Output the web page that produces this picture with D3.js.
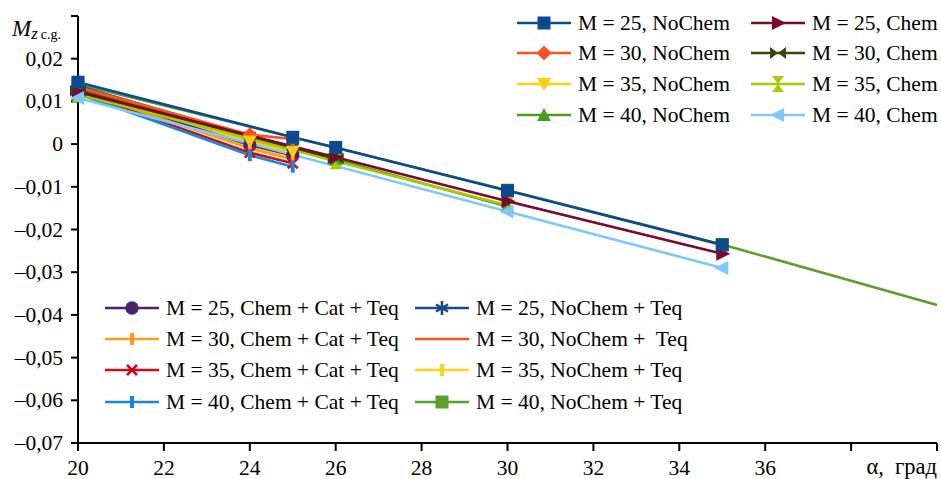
<!DOCTYPE html>
<html>
<head>
<meta charset="utf-8">
<script src="https://cdn.jsdelivr.net/npm/d3@7"></script>
<style>
  body { margin: 0; background: #fff; }
  svg { display: block; font-family: "Liberation Serif", "Times New Roman", serif; }
  svg text { white-space: pre; }
</style>
</head>
<body>
<svg id="chart" width="941" height="479"></svg>
<script>
// ---- data ----
const xTicks = [20, 22, 24, 26, 28, 30, 32, 34, 36, 38, 40];
const xTickLabels = ['20', '22', '24', '26', '28', '30', '32', '34', '36', '', ''];
const yTicks = [-0.07, -0.06, -0.05, -0.04, -0.03, -0.02, -0.01, 0, 0.01, 0.02, 0.03];
const yTickLabels = ['\u20130,07', '\u20130,06', '\u20130,05', '\u20130,04', '\u20130,03', '\u20130,02', '\u20130,01', '0', '0,01', '0,02', ''];

const seriesNames = [
  'M = 25, NoChem', 'M = 30, NoChem', 'M = 35, NoChem', 'M = 40, NoChem',
  'M = 25, Chem', 'M = 30, Chem', 'M = 35, Chem', 'M = 40, Chem',
  'M = 25, Chem + Cat + Teq', 'M = 30, Chem + Cat + Teq', 'M = 35, Chem + Cat + Teq', 'M = 40, Chem + Cat + Teq',
  'M = 25, NoChem + Teq', 'M = 30, NoChem +  Teq', 'M = 35, NoChem + Teq', 'M = 40, NoChem + Teq'
];
const seriesAlpha = [
  [20, 25, 26, 30, 35], [20, 24, 25], [20, 24, 25], [20, 26, 30],
  [20, 26, 30, 35], [20, 26], [20, 26, 30], [20, 30, 35],
  [20, 24, 25], [20, 24, 25], [20, 24, 25], [20, 24, 25],
  [20, 24, 25], [20, 24, 25], [20, 24, 25], [20, 30, 35, 40]
];
const seriesValues = [
  [0.0145, 0.0016, -0.0008, -0.0109, -0.0236], [0.0134, 0.0022, 0.0012], [0.0126, 0.0006, -0.0018], [0.0116, -0.0036, -0.0146],
  [0.0122, -0.0031, -0.0134, -0.0257], [0.0125, -0.0034], [0.0117, -0.0040, -0.0143], [0.0108, -0.0158, -0.0290],
  [0.0128, -0.0002, -0.0026], [0.0125, -0.0010, -0.0036], [0.0122, -0.0020, -0.0045], [0.0118, -0.0026, -0.0053],
  [0.0136, 0.0019, -0.0007], [0.0131, 0.0010, -0.0014], [0.0124, -0.0004, -0.0030], [0.0140, -0.0108, -0.0235, -0.0377]
];
const seriesColors = [
  '#0d4a8c', '#ff5020', '#ffcc10', '#4c9a22',
  '#7a0a2a', '#34480c', '#a6cc00', '#80c8fa',
  '#4a2272', '#ff9a1c', '#cc0c18', '#1a88da',
  '#164a8a', '#ff4c1c', '#ffd418', '#5aa02a'
];
const seriesMarkers = [
  'square', 'diamond', 'triDown', 'triUp',
  'triRight', 'bowtie', 'hourglass', 'triLeft',
  'circle', 'bar', 'cross', 'bar',
  'star', 'none', 'bar', 'square'
];

const series = seriesNames.map((name, i) => ({
  name,
  color: seriesColors[i],
  marker: seriesMarkers[i],
  points: seriesAlpha[i].map((a, j) => [a, seriesValues[i][j]])
}));

// ---- layout ----
const svg = d3.select('#chart');
const x = d3.scaleLinear().domain([20, 40]).range([78, 937]);
const y = d3.scaleLinear().domain([-0.07, 0.03]).range([443, 16]);
const fs = 21.5;

function markerPath(type) {
  switch (type) {
    case 'square': return 'M-6.5,-6.5h13v13h-13Z';
    case 'diamond': return 'M0,-7.5L7.5,0L0,7.5L-7.5,0Z';
    case 'triDown': return 'M-7,-6L7,-6L0,7Z';
    case 'triUp': return 'M-7,6L7,6L0,-7Z';
    case 'triRight': return 'M-6,-7L8,0L-6,7Z';
    case 'triLeft': return 'M6,-7L-8,0L6,7Z';
    case 'bowtie': return 'M-8,-6L0,0L-8,6Z M8,-6L0,0L8,6Z';
    case 'hourglass': return 'M-6,-8L6,-8L0,0Z M-6,8L6,8L0,0Z';
    case 'circle': return d3.symbol(d3.symbolCircle, 140)();
    case 'bar': return 'M-2,-6h4v12h-4Z';
    case 'cross': return 'M-5,-5L5,5M-5,5L5,-5';
    case 'star': return 'M0,-7V7M-6,-3.5L6,3.5M-6,3.5L6,-3.5';
    default: return '';
  }
}
const strokeMarker = t => t === 'cross' || t === 'star';

function drawMarker(g, type, color) {
  if (type === 'none') return;
  g.append('path')
    .attr('d', markerPath(type))
    .attr('fill', strokeMarker(type) ? 'none' : color)
    .attr('stroke', strokeMarker(type) ? color : 'none')
    .attr('stroke-width', 2.6);
}

// axes
svg.append('line').attr('x1', x(20)).attr('x2', x(20)).attr('y1', y(0.03)).attr('y2', y(-0.07))
  .attr('stroke', '#000').attr('stroke-width', 2);
svg.append('line').attr('x1', x(20)).attr('x2', x(40)).attr('y1', y(-0.07)).attr('y2', y(-0.07))
  .attr('stroke', '#000').attr('stroke-width', 2);

yTicks.forEach((v, i) => {
  svg.append('line').attr('x1', x(20) - 7).attr('x2', x(20)).attr('y1', y(v)).attr('y2', y(v))
    .attr('stroke', '#000').attr('stroke-width', 2);
  svg.append('text').attr('x', 63).attr('y', y(v) + 7).attr('text-anchor', 'end')
    .attr('font-size', fs).text(yTickLabels[i]);
});
xTicks.forEach((v, i) => {
  svg.append('line').attr('x1', x(v)).attr('x2', x(v)).attr('y1', y(-0.07)).attr('y2', y(-0.07) + 8)
    .attr('stroke', '#000').attr('stroke-width', 2);
  svg.append('text').attr('x', x(v)).attr('y', 475).attr('text-anchor', 'middle')
    .attr('font-size', fs).text(xTickLabels[i]);
});

// axis titles
const yt = svg.append('text').attr('x', 12).attr('y', 36).attr('font-size', 23);
yt.append('tspan').attr('font-style', 'italic').text('M');
yt.append('tspan').attr('font-style', 'italic').attr('font-size', 17).attr('dy', 3).text('z');
yt.append('tspan').attr('font-size', 14).attr('dx', 3).text('c.g.');
svg.append('text').attr('x', 937).attr('y', 474).attr('text-anchor', 'end')
  .attr('font-size', 22.5).text('\u03b1,  град');

// series
const line = d3.line().x(d => x(d[0])).y(d => y(d[1]));
const drawOrder = [15, 12, 13, 14, 8, 9, 10, 11, 1, 2, 3, 6, 5, 4, 7, 0];

const plot = svg.append('g');
drawOrder.forEach(i => {
  const s = series[i];
  plot.append('path').attr('d', line(s.points)).attr('fill', 'none')
    .attr('stroke', s.color).attr('stroke-width', 2.6);
});
drawOrder.forEach(i => {
  const s = series[i];
  s.points.filter(p => p[0] < 40).forEach(p => {
    const g = plot.append('g').attr('transform', `translate(${x(p[0])},${y(p[1])})`);
    drawMarker(g, s.marker, s.color);
  });
});

// legends
function legendItem(s, lx, ly) {
  const g = svg.append('g');
  g.append('line').attr('x1', lx).attr('x2', lx + 54).attr('y1', ly).attr('y2', ly)
    .attr('stroke', s.color).attr('stroke-width', 2.6);
  drawMarker(g.append('g').attr('transform', `translate(${lx + 27},${ly})`), s.marker, s.color);
  g.append('text').attr('x', lx + 61).attr('y', ly + 7).attr('font-size', fs).text(s.name);
}
const topRows = [23, 53, 84, 115];
const botRows = [308, 339, 370, 402];
for (let r = 0; r < 4; r++) {
  legendItem(series[r], 517, topRows[r]);
  legendItem(series[4 + r], 751, topRows[r]);
  legendItem(series[8 + r], 105, botRows[r]);
  legendItem(series[12 + r], 415, botRows[r]);
}
</script>
</body>
</html>
